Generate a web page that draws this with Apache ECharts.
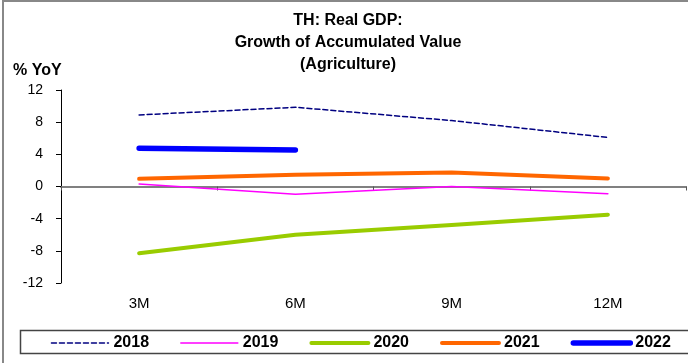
<!DOCTYPE html>
<html><head><meta charset="utf-8">
<script src="https://cdn.jsdelivr.net/npm/echarts@6/dist/echarts.min.js"></script>
<style>html,body{margin:0;padding:0;background:#fff}#c{width:688px;height:363px}</style>
</head><body><div id="c"></div>
<script>
const categories = ['3M','6M','9M','12M'];
const s2018 = [8.9, 9.85, 8.2, 6.1];
const s2019 = [0.3, -0.95, 0.0, -0.9];
const s2020 = [-8.3, -6.0, -4.8, -3.5];
const s2021 = [0.95, 1.45, 1.75, 1.0];
const s2022 = [4.75, 4.55];
const yTicks = [-12, -8, -4, 0, 4, 8, 12];

const FONT = 'Arial, "Liberation Sans", sans-serif';
const chart = echarts.init(document.getElementById('c'), null, {renderer:'canvas'});
const styles = {
  '2018': {color:'#000080', width:1.5, type:[5,3]},
  '2019': {color:'#FF00FF', width:1.5, type:'solid'},
  '2020': {color:'#99CC00', width:4, type:'solid'},
  '2021': {color:'#FF6600', width:4, type:'solid'},
  '2022': {color:'#0000FF', width:5.5, type:'solid'}
};
function ser(name, data){
  const s = styles[name];
  return {name, type:'line', data, xAxisIndex:0, symbol:'none', smooth:false,
    lineStyle:{color:s.color, width:s.width, type:s.type, cap:'round', join:'round'}, itemStyle:{color:s.color}, z:3};
}
const names = ['2018','2019','2020','2021','2022'];
chart.setOption({
  animation:false,
  textStyle:{fontFamily:FONT},
  title:{text:'TH: Real GDP:\nGrowth of Accumulated Value\n(Agriculture)', left:343, textAlign:'center', top:5,
    textStyle:{fontFamily:FONT, fontWeight:'bold', fontSize:16, lineHeight:21.7, color:'#000'}},
  graphic:[
    {type:'rect', shape:{x:3,y:1,width:720,height:400}, style:{fill:'none', stroke:'#888', lineWidth:2}, z:-10},
    {type:'rect', shape:{x:20.5,y:330.5,width:700,height:23}, style:{fill:'none', stroke:'#444', lineWidth:1.5}, z:-5},
    {type:'text', left:13, top:63, style:{text:'% YoY', font:'bold 16px '+FONT, fill:'#000'}}
  ],
  legend:{left:50.7, top:335, padding:0, itemWidth:57, itemHeight:14, itemGap:31,
    itemStyle:{opacity:0},
    textStyle:{fontFamily:FONT, fontWeight:'bold', fontSize:16, color:'#000'},
    data:names.map(n => ({name:n, lineStyle:{color:styles[n].color, width:styles[n].width, type:styles[n].type, cap:'round'}}))},
  grid:{left:61, right:2, top:90, bottom:80},
  xAxis:[
    {type:'category', data:categories, boundaryGap:true,
      axisLine:{onZero:true, lineStyle:{color:'#808080', width:2}},
      axisTick:{show:true, inside:false, length:4, lineStyle:{color:'#555', width:1}},
      axisLabel:{show:false}},
    {type:'category', data:categories, boundaryGap:true, position:'bottom',
      axisLine:{show:false, onZero:false}, axisTick:{show:false},
      axisLabel:{show:true, margin:13, fontSize:15, fontFamily:FONT, color:'#000'}}
  ],
  yAxis:{type:'value', min:yTicks[0], max:yTicks[yTicks.length-1], interval:4,
    axisLine:{show:true, lineStyle:{color:'#000', width:1}},
    axisTick:{show:true, length:5, lineStyle:{color:'#000'}},
    splitLine:{show:false},
    axisLabel:{fontSize:14, fontFamily:FONT, color:'#000', margin:18}},
  series:[
    ser('2018', s2018),
    ser('2019', s2019),
    ser('2020', s2020),
    ser('2021', s2021),
    ser('2022', s2022)
  ]
});
</script></body></html>
